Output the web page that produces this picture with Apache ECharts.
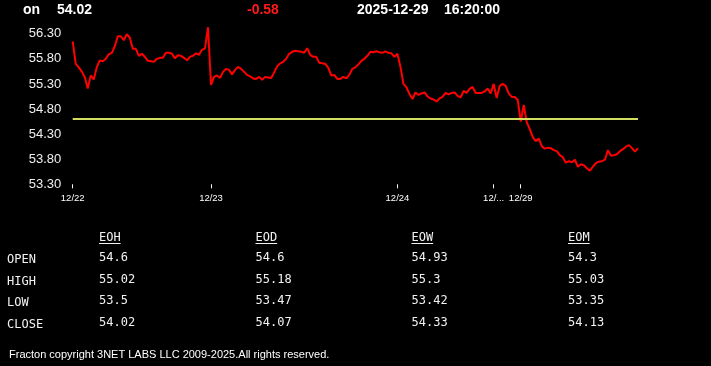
<!DOCTYPE html>
<html>
<head>
<meta charset="utf-8">
<script src="https://cdn.jsdelivr.net/npm/echarts@6/dist/echarts.min.js"></script>
<style>
html,body{margin:0;padding:0;background:#000;}
#chart{width:711px;height:366px;}
</style>
</head>
<body>
<div id="chart"></div>
<script>
// ---- data ----
const symbolText = 'on';
const lastPrice = '54.02';
const changeText = '-0.58';
const dateText = '2025-12-29';
const timeText = '16:20:00';
const openLevel = 54.6;

const prices = [
56.15,55.70,55.63,55.55,55.44,55.21,55.47,55.39,55.63,55.77,
55.75,55.80,55.89,55.92,56.05,56.25,56.25,56.17,56.29,56.22,
56.00,56.00,55.86,55.90,55.84,55.76,55.75,55.74,55.80,55.82,
55.82,55.92,55.92,55.90,55.81,55.87,55.86,55.82,55.77,55.84,
55.86,55.91,55.88,55.98,56.01,56.43,55.28,55.44,55.47,55.42,
55.54,55.60,55.58,55.49,55.58,55.64,55.60,55.54,55.48,55.45,
55.41,55.40,55.44,55.38,55.44,55.43,55.42,55.53,55.65,55.71,
55.74,55.80,55.90,55.94,55.96,55.95,55.94,55.92,56.01,55.88,
55.84,55.84,55.72,55.71,55.70,55.62,55.47,55.48,55.40,55.40,
55.44,55.41,55.48,55.60,55.63,55.69,55.76,55.80,55.86,55.94,
55.93,55.95,55.93,55.92,55.95,55.92,55.91,55.84,55.90,55.64,
55.30,55.23,55.10,55.00,55.13,55.08,55.11,55.13,55.05,55.01,
54.99,54.95,55.01,55.04,55.12,55.09,55.12,55.13,55.06,55.03,
55.16,55.12,55.20,55.24,55.12,55.12,55.12,55.15,55.21,55.11,
55.30,55.02,55.26,55.30,55.26,55.11,55.04,55.04,54.98,54.55,
54.88,54.54,54.40,54.24,54.16,54.21,54.06,54.01,54.03,54.02,
53.98,53.96,53.88,53.84,53.73,53.76,53.74,53.79,53.65,53.70,
53.68,53.62,53.57,53.65,53.72,53.75,53.76,53.79,53.98,53.87,
53.88,53.90,53.96,54.00,54.05,54.08,54.02,53.95,54.02
];
const dayTickIndex = [0, 46, 108, 140, 149];
const dayTickLabels = ['12/22', '12/23', '12/24', '12/...', '12/29'];
const yTickValues = [53.30, 53.80, 54.30, 54.80, 55.30, 55.80, 56.30];

const rowLabels = ['OPEN', 'HIGH', 'LOW', 'CLOSE'];
const colHeaders = ['EOH', 'EOD', 'EOW', 'EOM'];
const eohValues = [54.6, 55.02, 53.5, 54.02];
const eodValues = [54.6, 55.18, 53.47, 54.07];
const eowValues = [54.93, 55.3, 53.42, 54.33];
const eomValues = [54.3, 55.03, 53.35, 54.13];
const footerText = 'Fracton copyright 3NET LABS LLC 2009-2025.All rights reserved.';

// ---- build ----
const categories = prices.map((_, i) => String(i));
const tickSet = {};
dayTickIndex.forEach((idx, k) => { tickSet[idx] = dayTickLabels[k]; });

const tableCols = [eohValues, eodValues, eowValues, eomValues];
const colX = [99, 255.5, 411.5, 568];
const rowY = [259, 280.5, 302, 323.5];
const headerY = 238;
const textColor = '#f2f2f2';
const mono = '"DejaVu Sans Mono", monospace';

const graphics = [];
const hdrFont = 'bold 14px "Liberation Sans", Arial, sans-serif';
graphics.push({type:'text', left:23, top:3, style:{text:symbolText, fill:'#ffffff', font:hdrFont}});
graphics.push({type:'text', left:57, top:3, style:{text:lastPrice, fill:'#ffffff', font:hdrFont}});
graphics.push({type:'text', left:247, top:3, style:{text:changeText, fill:'#ff1a1a', font:hdrFont}});
graphics.push({type:'text', left:357, top:3, style:{text:dateText, fill:'#ffffff', font:hdrFont}});
graphics.push({type:'text', left:444, top:3, style:{text:timeText, fill:'#ffffff', font:hdrFont}});

colHeaders.forEach((h, c) => {
  graphics.push({type:'text', x:colX[c], y:headerY, style:{text:h, fill:textColor, font:'12px ' + mono, verticalAlign:'middle', align:'left'}});
  graphics.push({type:'line', shape:{x1:colX[c], y1:243.5, x2:colX[c] + h.length * 7.22, y2:243.5}, style:{stroke:textColor, lineWidth:1}});
});
rowLabels.forEach((r, k) => {
  graphics.push({type:'text', x:7, y:rowY[k] + 1, style:{text:r, fill:textColor, font:'12px ' + mono, verticalAlign:'middle', align:'left'}});
  tableCols.forEach((col, c) => {
    graphics.push({type:'text', x:colX[c], y:rowY[k] - 1, style:{text:String(col[k]), fill:textColor, font:'12px ' + mono, verticalAlign:'middle', align:'left'}});
  });
});
graphics.push({type:'text', x:9, y:355, style:{text:footerText, fill:'#ffffff', font:'11px "Liberation Sans", Arial, sans-serif', verticalAlign:'middle', align:'left'}});

const chart = echarts.init(document.getElementById('chart'), null, {renderer:'canvas'});
chart.setOption({
  backgroundColor: '#000000',
  animation: false,
  grid: {left: 72.7, right: 73, top: 23.7, bottom: 181.7, containLabel: false},
  xAxis: {
    type: 'category',
    data: categories,
    boundaryGap: false,
    axisLine: {show: false},
    axisTick: {show: true, length: 4, lineStyle: {color: '#ffffff', width: 1}, interval: (i) => tickSet[i] !== undefined},
    axisLabel: {
      interval: (i) => tickSet[i] !== undefined,
      formatter: (v, i) => tickSet[i] !== undefined ? tickSet[i] : '',
      color: '#ffffff', fontSize: 9.5, fontFamily: '"Liberation Sans", Arial, sans-serif', margin: 9.5
    },
    splitLine: {show: false}
  },
  yAxis: {
    type: 'value',
    min: 53.3,
    max: 56.5,
    axisLine: {show: false},
    axisTick: {show: false},
    splitLine: {show: false},
    axisLabel: {
      customValues: yTickValues,
      formatter: (v) => v.toFixed(2),
      color: '#f0f0f0', fontSize: 13, fontFamily: '"Liberation Sans", Arial, sans-serif', margin: 11.5
    }
  },
  series: [{
    type: 'line',
    data: prices,
    symbol: 'none',
    lineStyle: {color: '#ff0000', width: 2},
    markLine: {
      silent: true,
      symbol: 'none',
      label: {show: false},
      lineStyle: {color: '#d2de62', width: 2, type: 'solid'},
      data: [{yAxis: openLevel}]
    },
    z: 3
  }],
  graphic: graphics
});
</script>
</body>
</html>
